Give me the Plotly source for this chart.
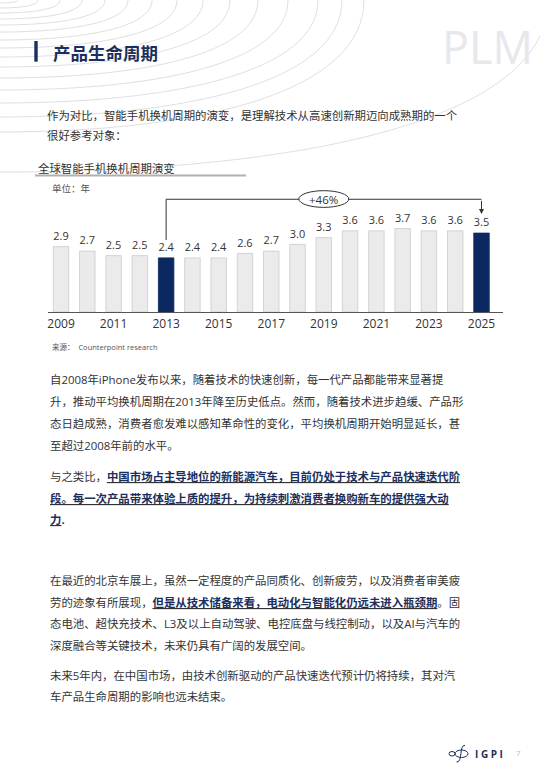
import plotly.graph_objects as go

# ---------------- data ----------------
years = [2009, 2010, 2011, 2012, 2013, 2014, 2015, 2016, 2017,
         2018, 2019, 2020, 2021, 2022, 2023, 2024, 2025]
cycle_years = [2.9, 2.7, 2.5, 2.5, 2.4, 2.4, 2.4, 2.6, 2.7,
               3.0, 3.3, 3.6, 3.6, 3.7, 3.6, 3.6, 3.5]
highlight_years = [2013, 2025]
tick_years = [2009, 2011, 2013, 2015, 2017, 2019, 2021, 2023, 2025]
tick_labels = ["2009", "2011", "2013", "2015", "2017", "2019", "2021", "2023", "2025"]

page_title = "产品生命周期"
watermark = "PLM"
chart_title = "全球智能手机换机周期演变"
unit_label = "单位：年"
source_label = "来源：  Counterpoint research"

intro_lines = [
    "作为对比，智能手机换机周期的演变，是理解技术从高速创新期迈向成熟期的一个",
    "很好参考对象：",
]
NAVY = "#1b2f5e"
B0 = "<b><u><span style='color:%s'>" % NAVY
B1 = "</span></u></b>"
body_lines = [
    "自2008年iPhone发布以来，随着技术的快速创新，每一代产品都能带来显著提",
    "升，推动平均换机周期在2013年降至历史低点。然而，随着技术进步趋缓、产品形",
    "态日趋成熟，消费者愈发难以感知革命性的变化，平均换机周期开始明显延长，甚",
    "至超过2008年前的水平。",
    "与之类比，" + B0 + "中国市场占主导地位的新能源汽车，目前仍处于技术与产品快速迭代阶" + B1,
    B0 + "段。每一次产品带来体验上质的提升，为持续刺激消费者换购新车的提供强大动" + B1,
    B0 + "力" + B1 + "<b><span style='color:%s'>.</span></b>" % NAVY,
    "在最近的北京车展上，虽然一定程度的产品同质化、创新疲劳，以及消费者审美疲",
    "劳的迹象有所展现，" + B0 + "但是从技术储备来看，电动化与智能化仍远未进入瓶颈期" + B1 + "。固",
    "态电池、超快充技术、L3及以上自动驾驶、电控底盘与线控制动，以及AI与汽车的",
    "深度融合等关键技术，未来仍具有广阔的发展空间。",
    "未来5年内，在中国市场，由技术创新驱动的产品快速迭代预计仍将持续，其对汽",
    "车产品生命周期的影响也远未结束。",
]
body_y = [379, 401, 423, 445, 476.5, 498, 519.5, 580.5, 602, 623.5, 645, 675, 696.5]

# ---------------- styling ----------------
W, H = 540, 780
FONT = "Open Sans, Noto Sans CJK SC, sans-serif"
CJK = "Noto Sans CJK SC, Open Sans, sans-serif"
TEXT = "#333333"
BAR_NAVY = "#0c2860"
BAR_GRAY = "#ebebeb"

colors = [BAR_NAVY if y in highlight_years else BAR_GRAY for y in years]
lines = [BAR_NAVY if y in highlight_years else "#cccccc" for y in years]

fig = go.Figure()
fig.add_trace(go.Bar(
    x=years, y=cycle_years, width=0.59,
    marker=dict(color=colors, line=dict(color=lines, width=0.8)),
    texttemplate="%{y:.1f}", textposition="outside", cliponaxis=False,
    textfont=dict(family=FONT, size=12, color=TEXT),
    hoverinfo="skip", showlegend=False, xaxis="x", yaxis="y",
))
# invisible trace for the page-coordinate overlay axes
fig.add_trace(go.Scatter(x=[0], y=[0], mode="markers", marker=dict(opacity=0),
                         hoverinfo="skip", showlegend=False, xaxis="x2", yaxis="y2"))

# chart geometry (pixels)
base_px, top_px = 312, 180
left_px, right_px = 48, 503
px_per_unit = 22.55
y_top = (base_px - top_px) / px_per_unit

fig.update_layout(
    width=W, height=H, margin=dict(l=0, r=0, t=0, b=0),
    paper_bgcolor="white", plot_bgcolor="rgba(0,0,0,0)",
    font=dict(family=FONT, color=TEXT),
    xaxis=dict(domain=[left_px / W, right_px / W], range=[2008.505, 2025.818],
               tickvals=tick_years, ticktext=tick_labels, ticks="",
               tickfont=dict(family=FONT, size=12, color=TEXT),
               showgrid=False, zeroline=False, showline=True,
               linecolor="#555555", linewidth=1.3, anchor="y", fixedrange=True),
    yaxis=dict(domain=[(H - base_px) / H, (H - top_px) / H], range=[0, y_top],
               visible=False, anchor="x", fixedrange=True),
    xaxis2=dict(domain=[0, 1], range=[0, W], visible=False, anchor="y2", fixedrange=True),
    yaxis2=dict(domain=[0, 1], range=[H, 0], visible=False, anchor="x2", fixedrange=True),
    bargap=0.4,
)

shapes = []
# background arcs (left-edge y, top-edge x)
arc_left_y = [3, 8, 13, 19, 25, 32, 40, 48, 57, 67, 78, 90, 103, 117, 132, 172]
arc_top_x = [18, 38, 60, 82, 105, 128, 152, 177, 203, 230, 258, 288, 318, 342, 364, 548]
for yl, xt in zip(arc_left_y, arc_top_x):
    path = "M 0,%g C %g,%g %g,%g %g,0" % (yl, 0.55 * xt, yl, xt, 0.7 * yl, xt)
    shapes.append(dict(type="path", path=path, xref="x2", yref="y2", layer="above",
                       line=dict(color="#d4d4d4", width=0.75)))
# header bar
shapes.append(dict(type="rect", xref="x2", yref="y2", x0=34.3, x1=37.7, y0=41, y1=61.7,
                   fillcolor=NAVY, line=dict(width=0)))
# chart title underline
shapes.append(dict(type="line", xref="x2", yref="y2", x0=35, x1=246, y0=175.5, y1=175.5,
                   line=dict(color="#b0b0b0", width=2)))

# bracket from 2013 to 2025
i0 = years.index(highlight_years[0])
i1 = years.index(highlight_years[1])
x0b, x1b = years[i0], years[i1]
yb = 5.0
mid = (x0b + x1b) / 2
shapes.append(dict(type="line", xref="x", yref="y", x0=x0b, x1=x0b,
                   y0=cycle_years[i0] + 0.79, y1=yb, line=dict(color=TEXT, width=1)))
shapes.append(dict(type="line", xref="x", yref="y", x0=x0b, x1=x1b, y0=yb, y1=yb,
                   line=dict(color=TEXT, width=1)))
shapes.append(dict(type="circle", xref="x", yref="y", x0=mid - 0.95, x1=mid + 0.95,
                   y0=4.64, y1=5.38, fillcolor="white", line=dict(color=TEXT, width=1)))

# logo symbol
shapes.append(dict(type="circle", xref="x2", yref="y2", x0=455, x1=468, y0=750, y1=757.5,
                   line=dict(color=NAVY, width=1)))
shapes.append(dict(type="circle", xref="x2", yref="y2", x0=449, x1=455, y0=751.5, y1=756,
                   line=dict(color=NAVY, width=1)))
shapes.append(dict(type="path", xref="x2", yref="y2",
                   path="M 465,745.5 C 459,744 463,763 456.5,762",
                   line=dict(color=NAVY, width=1)))
fig.update_layout(shapes=shapes)

ann = []
def txt(x, y, text, size, color=TEXT, family=FONT, xanchor="left"):
    ann.append(dict(x=x, y=y, xref="x2", yref="y2", text=text, showarrow=False,
                    xanchor=xanchor, yanchor="middle",
                    font=dict(family=family, size=size, color=color)))

txt(440, 46, watermark, 45, color="#e6e8eb", family="Open Sans, sans-serif")
txt(51, 52, "<b>%s</b>" % page_title, 17.5, color=NAVY, family=CJK)
for ln, yy in zip(intro_lines, [115, 135]):
    txt(45, yy, ln, 11.4)
txt(36, 168, chart_title, 11.4)
txt(50, 188, unit_label, 9.5, color="#555555")
txt(49.5, 347, source_label, 7.5, color="#555555")
for ln, yy in zip(body_lines, body_y):
    txt(47.5, yy, ln, 11.4)
txt(473, 753.5, "<b>I G P I</b>", 10, color=NAVY, family="Open Sans, sans-serif")
txt(514, 752, "7", 8, color="#bbbbbb")

# +46% label and arrow
pct = round((cycle_years[i1] / cycle_years[i0] - 1) * 100)
ann.append(dict(x=mid, y=yb, xref="x", yref="y", text="+%d%%" % pct, showarrow=False,
                font=dict(family=FONT, size=11.5, color=TEXT), yanchor="middle"))
ann.append(dict(x=x1b, y=cycle_years[i1] + 0.85, ax=x1b, ay=yb, xref="x", yref="y",
                axref="x", ayref="y", text="", showarrow=True, arrowhead=2,
                arrowsize=1, arrowwidth=1, arrowcolor=TEXT))
fig.update_layout(annotations=ann)

fig.write_html("out.html", config={"displayModeBar": False},
               post_script="document.body.style.margin='0';")
